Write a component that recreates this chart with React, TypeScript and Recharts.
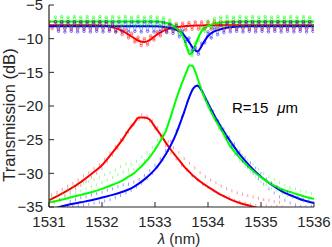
import React from "react";
import {
  ComposedChart,
  Line,
  Scatter,
  XAxis,
  YAxis,
} from "recharts";

// wavelength grid of the fitted curves (nm)
const fitNm = [
  1531.0, 1531.2, 1531.4, 1531.6, 1531.8, 1532.0, 1532.2, 1532.4, 1532.5, 1532.6,
  1532.7, 1532.8, 1532.9, 1533.0, 1533.1, 1533.2, 1533.3, 1533.4, 1533.5, 1533.55,
  1533.6, 1533.65, 1533.7, 1533.75, 1533.8, 1533.85, 1533.9, 1534.0, 1534.1, 1534.2,
  1534.3, 1534.4, 1534.6, 1534.8, 1535.0, 1535.2, 1535.4, 1535.6, 1535.8, 1536.0,
];

// fitted drop port (dB)
const redDropFit = [
  -34.0, -33.2, -32.3, -31.3, -30.1, -28.8, -26.9, -24.8, -23.6, -22.6,
  -21.7, -21.7, -22.0, -23.1, -24.2, -25.4, -26.5, -27.5, -28.5, -29.0,
  -29.4, -29.8, -30.2, -30.55, -30.9, -31.2, -31.5, -32.0, -32.5, -33.0,
  -33.4, -33.8, -34.4, -34.85, -35.3, null, null, null, null, null,
];
const greenDropFit = [
  -34.3, -34.0, -33.6, -33.2, -32.8, -32.3, -31.7, -31.0, -30.5, -30.0,
  -29.3, -28.5, -27.6, -26.5, -25.2, -23.8, -21.5, -19.0, -16.8, -15.8,
  -14.8, -14.0, -14.0, -14.7, -15.8, -17.0, -18.1, -19.9, -21.5, -22.9,
  -24.2, -25.7, -27.7, -29.3, -30.6, -31.6, -32.4, -32.9, -33.4, -33.8,
];
const blueDropFit = [
  -35.4, -35.0, -34.6, -34.3, -34.0, -33.6, -33.2, -32.7, -32.4, -32.0,
  -31.5, -30.9, -30.2, -29.4, -28.4, -27.2, -25.8, -24.1, -22.0, -20.9,
  -19.7, -18.6, -17.7, -17.15, -17.0, -17.3, -18.0, -19.6, -21.1, -22.5,
  -23.8, -25.0, -27.2, -29.0, -30.5, -31.7, -32.7, -33.4, -34.0, -34.4,
];

// fitted through port (dB)
const redThruFit = [
  -8.0, -8.0, -8.0, -8.0, -8.0, -8.05, -8.3, -8.9, -9.4, -9.9,
  -10.35, -10.5, -10.2, -9.6, -9.1, -8.7, -8.45, -8.3, -8.2, -8.15,
  -8.12, -8.1, -8.08, -8.06, -8.05, -8.04, -8.03, -8.02, -8.0, -8.0,
  -8.0, -8.0, -8.0, -8.0, -8.0, -8.0, -8.0, -8.0, -8.0, -8.0,
];
const greenThruFit = [
  -7.45, -7.45, -7.45, -7.45, -7.45, -7.45, -7.45, -7.45, -7.45, -7.45,
  -7.45, -7.45, -7.45, -7.45, -7.5, -7.65, -7.9, -8.4, -9.3, -10.1,
  -11.2, -12.3, -12.1, -11.2, -10.1, -9.3, -8.7, -8.1, -7.8, -7.65,
  -7.55, -7.5, -7.47, -7.45, -7.45, -7.45, -7.45, -7.45, -7.45, -7.45,
];
const blueThruFit = [
  -8.15, -8.15, -8.15, -8.15, -8.15, -8.15, -8.15, -8.15, -8.15, -8.15,
  -8.15, -8.15, -8.15, -8.15, -8.2, -8.3, -8.45, -8.7, -9.1, -9.5,
  -10.0, -10.6, -11.2, -11.7, -11.9, -11.5, -10.8, -9.6, -9.0, -8.7,
  -8.45, -8.3, -8.2, -8.15, -8.15, -8.15, -8.15, -8.15, -8.15, -8.15,
];

// measured through port, Fabry-Perot ripple included
const rippleNm = [
  1531.00, 1531.06, 1531.12, 1531.18, 1531.24, 1531.30, 1531.36, 1531.42, 1531.48, 1531.54,
  1531.60, 1531.66, 1531.72, 1531.78, 1531.84, 1531.90, 1531.96, 1532.02, 1532.08, 1532.14,
  1532.20, 1532.26, 1532.32, 1532.38, 1532.44, 1532.50, 1532.56, 1532.62, 1532.68, 1532.74,
  1532.80, 1532.86, 1532.92, 1532.98, 1533.04, 1533.10, 1533.16, 1533.22, 1533.28, 1533.34,
  1533.40, 1533.46, 1533.52, 1533.58, 1533.64, 1533.70, 1533.76, 1533.82, 1533.88, 1533.94,
  1534.00, 1534.06, 1534.12, 1534.18, 1534.24, 1534.30, 1534.36, 1534.42, 1534.48, 1534.54,
  1534.60, 1534.66, 1534.72, 1534.78, 1534.84, 1534.90, 1534.96, 1535.02, 1535.08, 1535.14,
  1535.20, 1535.26, 1535.32, 1535.38, 1535.44, 1535.50, 1535.56, 1535.62, 1535.68, 1535.74,
  1535.80, 1535.86, 1535.92, 1535.98,
];
const redThruMeas = [
  -7.5, -8.5, -7.5, -8.6, -7.5, -8.5, -7.5, -8.6, -7.5, -8.5,
  -7.5, -8.6, -7.5, -8.5, -7.5, -8.6, -7.5, -8.5, -7.5, -8.7,
  -7.8, -9.0, -8.2, -9.4, -8.6, -9.9, -9.2, -10.5, -9.8, -11.0,
  -10.0, -10.9, -9.6, -10.2, -8.9, -9.6, -8.4, -9.1, -8.0, -8.9,
  -7.8, -8.8, -7.7, -8.7, -7.6, -8.6, -7.5, -8.6, -7.5, -8.5,
  -7.5, -8.6, -7.5, -8.5, -7.5, -8.6, -7.5, -8.5, -7.5, -8.6,
  -7.5, -8.5, -7.5, -8.6, -7.5, -8.5, -7.5, -8.6, -7.5, -8.5,
  -7.5, -8.6, -7.5, -8.5, -7.5, -8.6, -7.5, -8.5, -7.5, -8.6,
  -7.5, -8.5, -7.5, -8.6,
];
const greenThruMeas = [
  null, null, -6.8, -8.1, -6.7, -8.2, -6.8, -8.1, -6.7, -8.2,
  -6.8, -8.1, -6.7, -8.2, -6.8, -8.1, -6.7, -8.2, -6.8, -8.1,
  -6.7, -8.2, -6.8, -8.1, -6.7, -8.2, -6.8, -8.1, -6.7, -8.2,
  -6.8, -8.1, -6.7, -8.2, -6.8, -8.1, -6.9, -8.3, -7.2, -8.6,
  -7.8, -9.2, -9.0, -11.0, -11.7, -12.5, -10.7, -10.3, -8.4, -8.9,
  -7.4, -8.5, -7.0, -8.3, -6.8, -8.2, -6.7, -8.1, -6.8, -8.2,
  -6.7, -8.1, -6.8, -8.2, -6.7, -8.1, -6.8, -8.2, -6.7, -8.1,
  -6.8, -8.2, -6.7, -8.1, -6.8, -8.2, -6.7, -8.1, -6.8, -8.2,
  -6.7, -8.1, -6.8, -8.2,
];
const blueThruMeas = [
  null, null, -7.5, -8.9, -7.5, -9.0, -7.5, -8.9, -7.5, -9.0,
  -7.5, -8.9, -7.5, -9.0, -7.5, -8.9, -7.5, -9.0, -7.5, -8.9,
  -7.5, -9.0, -7.5, -8.9, -7.5, -9.0, -7.5, -8.9, -7.5, -9.0,
  -7.5, -8.9, -7.5, -9.0, -7.5, -8.9, -7.6, -9.0, -7.8, -9.2,
  -8.1, -9.7, -8.7, -10.4, -9.9, -11.8, -11.3, -12.3, -10.7, -10.6,
  -9.0, -9.9, -8.4, -9.4, -8.0, -9.1, -7.7, -9.0, -7.6, -8.9,
  -7.5, -9.0, -7.5, -8.9, -7.5, -9.0, -7.5, -8.9, -7.5, -9.0,
  -7.5, -8.9, -7.5, -9.0, -7.5, -8.9, -7.5, -9.0, -7.5, -8.9,
  -7.5, -9.0, -7.5, -8.9,
];

// measured drop port samples
const dotNm = [
  1531.00, 1531.05, 1531.10, 1531.15, 1531.20, 1531.25, 1531.30, 1531.35, 1531.40, 1531.45,
  1531.50, 1531.55, 1531.60, 1531.65, 1531.70, 1531.75, 1531.80, 1531.85, 1531.90, 1531.95,
  1532.00, 1532.05, 1532.10, 1532.15, 1532.20, 1532.25, 1532.30, 1532.35, 1532.40, 1532.45,
  1532.50, 1532.55, 1532.60, 1532.65, 1532.70, 1532.75, 1532.80, 1532.85, 1532.90, 1532.95,
  1533.00, 1533.05, 1533.10, 1533.15, 1533.20, 1533.25, 1533.30, 1533.35, 1533.40, 1533.45,
  1533.50, 1533.55, 1533.60, 1533.65, 1533.70, 1533.75, 1533.80, 1533.85, 1533.90, 1533.95,
  1534.00, 1534.05, 1534.10, 1534.15, 1534.20, 1534.25, 1534.30, 1534.35, 1534.40, 1534.45,
  1534.50, 1534.55, 1534.60, 1534.65, 1534.70, 1534.75, 1534.80, 1534.85, 1534.90, 1534.95,
  1535.00, 1535.05, 1535.10, 1535.15, 1535.20, 1535.25, 1535.30, 1535.35, 1535.40, 1535.45,
  1535.50, 1535.55, 1535.60, 1535.65, 1535.70, 1535.75, 1535.80, 1535.85, 1535.90, 1535.95,
  1536.00,
];
const redDropMeas = [
  -34.6, -33.2, -34.3, -32.8, -33.9, -32.4, -33.3, -31.9, -32.8, -31.5,
  -32.3, -31.0, -31.8, -30.4, -31.2, -29.9, -30.6, -29.3, -30.0, -28.7,
  -29.3, -27.9, -28.3, -27.0, -27.3, -26.0, -26.3, -25.0, -25.1, -23.9,
  -23.9, -22.8, -22.8, -21.9, -22.0, -21.3, -21.8, -21.5, -22.3, -22.2,
  -23.4, -23.2, -24.6, -24.3, -25.9, -25.3, -27.0, -26.2, -27.9, -26.9,
  -28.8, -27.8, -29.6, -28.5, -30.4, -29.2, -31.0, -29.9, -31.6, -30.5,
  -32.1, -31.0, -32.6, -31.4, -33.0, -31.9, -33.4, -32.3, -33.6, -32.6,
  -34.0, -32.9, -34.2, -33.1, -34.4, -33.3, -34.6, -33.5, -34.8, -33.7,
  -34.9, -33.9, -34.8, -34.0, -35.0, -34.2, -34.9, -34.3, -35.0, null,
  null, null, null, null, null, null, null, null, null, null,
  null,
];
const greenDropMeas = [
  null, -33.6, -34.3, -33.2, -33.9, -32.9, -33.5, -32.4, -33.2, -32.0,
  -32.9, -31.8, -32.6, -31.5, -32.3, -31.2, -32.0, -30.9, -31.7, -30.6,
  -31.4, -30.2, -31.0, -29.9, -30.6, -29.5, -30.2, -29.0, -29.8, -28.6,
  -29.5, -28.6, -29.4, -28.2, -28.8, -27.6, -28.1, -26.9, -27.2, -26.1,
  -26.2, -25.1, -25.0, -23.9, -23.5, -22.3, -21.4, -20.0, -18.9, -17.8,
  -16.8, -15.7, -14.9, -13.9, -14.1, -14.6, -15.9, -16.8, -18.3, -18.8,
  -20.2, -20.4, -21.9, -21.8, -23.3, -23.0, -24.6, -24.2, -26.1, -25.5,
  -27.2, -26.4, -28.2, -27.3, -29.0, -28.0, -29.8, -28.7, -30.5, -29.4,
  -31.2, -30.0, -31.7, -30.5, -32.2, -30.9, -32.6, -31.4, -33.0, -31.8,
  -33.3, -32.1, -33.6, -32.3, -33.8, -32.6, -34.1, -32.8, -34.3, -33.0,
  -34.4,
];
const blueDropMeas = [
  null, null, null, null, null, null, null, -34.9, -34.2, -34.9,
  -33.9, -34.8, -33.6, -34.7, -33.5, -34.6, -33.2, -34.4, -33.0, -34.3,
  -32.8, -34.1, -32.5, -33.9, -32.3, -33.6, -32.0, -33.3, -31.7, -32.9,
  -31.6, -32.5, -31.3, -32.0, -30.9, -31.5, -30.3, -30.8, -29.6, -30.0,
  -28.8, -29.1, -27.8, -28.0, -26.6, -26.6, -25.2, -25.0, -23.6, -23.1,
  -21.6, -20.9, -19.5, -18.7, -17.6, -17.2, -16.9, -17.4, -17.8, -19.0,
  -19.4, -20.6, -20.8, -22.1, -22.2, -23.5, -23.4, -24.8, -24.6, -26.0,
  -25.6, -27.1, -26.7, -28.2, -27.6, -29.1, -28.4, -30.0, -29.2, -30.8,
  -30.0, -31.6, -30.8, -32.3, -31.4, -32.9, -32.0, -33.5, -32.5, -34.0,
  -32.9, -34.4, -33.3, -34.7, -33.6, -34.9, -33.9, -35.0, -34.1, -34.9,
  -34.3,
];

const xTicks = [1531, 1532, 1533, 1534, 1535, 1536];
const yTicks = [-35, -30, -25, -20, -15, -10, -5];

const RED = "#ff0000";
const GREEN = "#00ff00";
const BLUE = "#0000ff";
const AXIS = "#262626";
const FONT = '"Liberation Sans", Arial, Helvetica, sans-serif';

const toLine = (xs: number[], ys: (number | null)[]) =>
  xs.map((x, i) => ({ x, y: ys[i] ?? null }));

const toDots = (xs: number[], ys: (number | null)[]) =>
  xs
    .map((x, i) => ({ x, y: ys[i] }))
    .filter((p) => p.y !== null && p.y !== undefined);

const minus = (v: number) =>
  v < 0 ? "\u2212" + Math.abs(v) : String(v);

// measured samples drawn as short pale streaks
const streak = (color: string) => (p: any) =>
  (
    <rect
      x={p.cx - 0.5}
      y={p.cy - 1.5}
      width={1}
      height={3}
      fill={color}
      fillOpacity={0.4}
    />
  );

const ring = (color: string) => ({
  r: 1.3,
  fill: "none",
  stroke: color,
  strokeWidth: 0.6,
  strokeOpacity: 0.8,
});

const tickStyle = {
  fontSize: 15,
  fill: AXIS,
  fontFamily: FONT,
};

export default function App() {
  return (
    <div
      style={{
        position: "absolute",
        left: 0,
        top: 0,
        width: 332,
        height: 247,
        background: "#fff",
      }}
    >
      <ComposedChart
        width={332}
        height={247}
        margin={{ top: 5, right: 18, bottom: 0, left: 0 }}
      >
        <XAxis
          dataKey="x"
          type="number"
          domain={[1531, 1536]}
          ticks={xTicks}
          interval={0}
          allowDataOverflow
          height={40}
          tickSize={-5}
          tickMargin={14}
          tick={tickStyle}
          axisLine={{ stroke: AXIS, strokeWidth: 1.2 }}
          tickLine={{ stroke: AXIS, strokeWidth: 1 }}
        />
        <XAxis
          xAxisId="top"
          orientation="top"
          type="number"
          domain={[1531, 1536]}
          ticks={xTicks}
          interval={0}
          height={0}
          tickSize={-5}
          tick={false}
          axisLine={{ stroke: AXIS, strokeWidth: 1.2 }}
          tickLine={{ stroke: AXIS, strokeWidth: 1 }}
        />
        <YAxis
          type="number"
          domain={[-35, -5]}
          ticks={yTicks}
          interval={0}
          allowDataOverflow
          width={49}
          tickSize={-5}
          tickMargin={11}
          tickFormatter={minus}
          tick={tickStyle}
          axisLine={{ stroke: AXIS, strokeWidth: 1.2 }}
          tickLine={{ stroke: AXIS, strokeWidth: 1 }}
        />
        <YAxis
          yAxisId="right"
          orientation="right"
          type="number"
          domain={[-35, -5]}
          ticks={yTicks}
          interval={0}
          width={0}
          tickSize={-5}
          tick={false}
          axisLine={{ stroke: AXIS, strokeWidth: 1.2 }}
          tickLine={{ stroke: AXIS, strokeWidth: 1 }}
        />

        {/* measured drop port */}
        <Scatter
          data={toDots(dotNm, redDropMeas)}
          dataKey="y"
          shape={streak(RED)}
          isAnimationActive={false}
        />
        <Scatter
          data={toDots(dotNm, greenDropMeas)}
          dataKey="y"
          shape={streak(GREEN)}
          isAnimationActive={false}
        />
        <Scatter
          data={toDots(dotNm, blueDropMeas)}
          dataKey="y"
          shape={streak(BLUE)}
          isAnimationActive={false}
        />

        {/* measured through port */}
        <Line
          data={toLine(rippleNm, redThruMeas)}
          dataKey="y"
          type="monotone"
          stroke={RED}
          strokeOpacity={0.6}
          strokeWidth={0.8}
          dot={ring(RED)}
          isAnimationActive={false}
        />
        <Line
          data={toLine(rippleNm, blueThruMeas)}
          dataKey="y"
          type="monotone"
          stroke={BLUE}
          strokeOpacity={0.5}
          strokeWidth={0.8}
          dot={ring(BLUE)}
          isAnimationActive={false}
        />
        <Line
          data={toLine(rippleNm, greenThruMeas)}
          dataKey="y"
          type="monotone"
          stroke={GREEN}
          strokeOpacity={0.7}
          strokeWidth={0.8}
          dot={ring(GREEN)}
          isAnimationActive={false}
        />

        {/* fits */}
        <Line
          data={toLine(fitNm, redDropFit)}
          dataKey="y"
          type="monotone"
          stroke={RED}
          strokeWidth={2}
          dot={false}
          isAnimationActive={false}
        />
        <Line
          data={toLine(fitNm, redThruFit)}
          dataKey="y"
          type="monotone"
          stroke={RED}
          strokeWidth={2}
          dot={false}
          isAnimationActive={false}
        />
        <Line
          data={toLine(fitNm, blueDropFit)}
          dataKey="y"
          type="monotone"
          stroke={BLUE}
          strokeWidth={2}
          dot={false}
          isAnimationActive={false}
        />
        <Line
          data={toLine(fitNm, blueThruFit)}
          dataKey="y"
          type="monotone"
          stroke={BLUE}
          strokeWidth={2}
          dot={false}
          isAnimationActive={false}
        />
        <Line
          data={toLine(fitNm, greenDropFit)}
          dataKey="y"
          type="monotone"
          stroke={GREEN}
          strokeWidth={2}
          dot={false}
          isAnimationActive={false}
        />
        <Line
          data={toLine(fitNm, greenThruFit)}
          dataKey="y"
          type="monotone"
          stroke={GREEN}
          strokeWidth={2}
          dot={false}
          isAnimationActive={false}
        />
      </ComposedChart>

      <svg
        width={332}
        height={247}
        style={{
          position: "absolute",
          left: 0,
          top: 0,
          pointerEvents: "none",
        }}
        fontFamily={FONT}
        fill={AXIS}
      >
        <text
          x={9}
          y={115}
          transform="rotate(-90 9 115)"
          textAnchor="middle"
          dominantBaseline="central"
          fontSize={16.5}
        >
          Transmission (dB)
        </text>
        <text
          x={179}
          y={238}
          textAnchor="middle"
          dominantBaseline="central"
          fontSize={15}
        >
          <tspan fontStyle="italic">λ</tspan> (nm)
        </text>
        <text
          x={232}
          y={107}
          dominantBaseline="central"
          fontSize={15}
          fill="#000"
        >
          R=15<tspan dx={9} fontStyle="italic">μ</tspan>m
        </text>
      </svg>
    </div>
  );
}
